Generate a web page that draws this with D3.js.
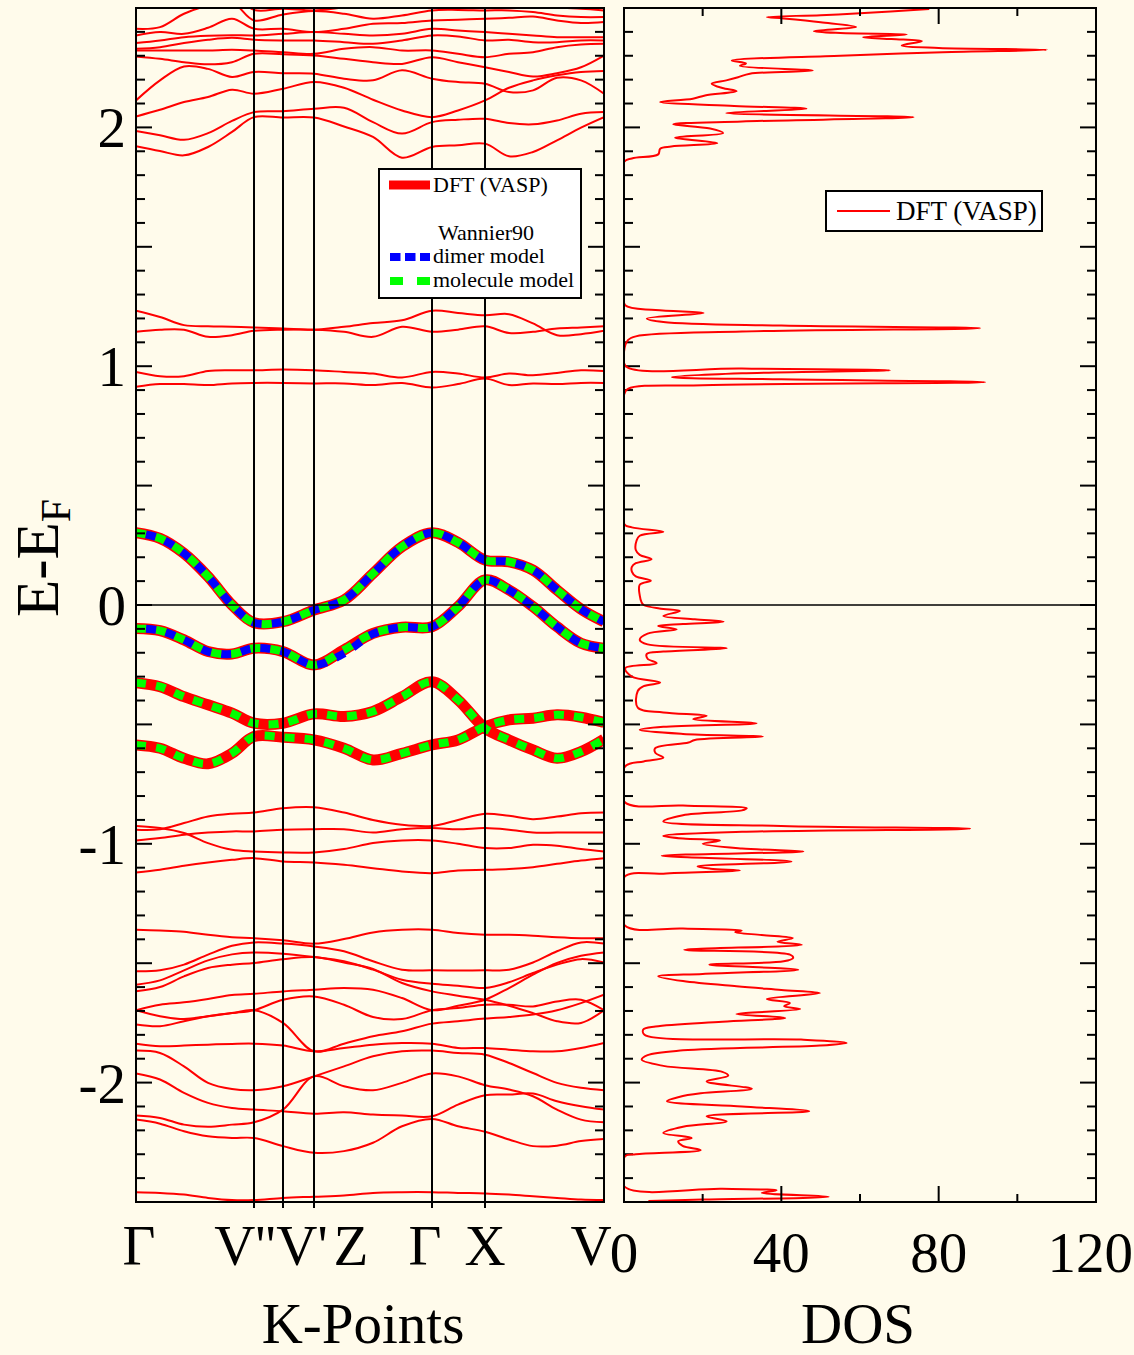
<!DOCTYPE html>
<html>
<head>
<meta charset="utf-8">
<script src="https://cdn.jsdelivr.net/npm/d3@7"></script>
<style>
  html, body { margin: 0; padding: 0; background: #fffbeb; }
  svg { display: block; }
  text { font-family: "Liberation Serif", "Times New Roman", serif; fill: #000; }
</style>
</head>
<body>
<svg id="chart" width="1134" height="1355"></svg>
<script>
// ---- k-path (distance along the path) ----
const kGrid = [0, 0.24, 0.48, 0.72, 0.96, 1.18, 1.47, 1.78, 2.08, 2.37, 2.66, 2.96, 3.22, 3.49, 3.73, 3.97, 4.21, 4.45, 4.68];
const kTicks = [0, 1.18, 1.47, 1.78, 2.96, 3.49, 4.68];
const kLabels = ["Γ", "V''", "V'", "Z", "Γ", "X", "V"];

// ---- DFT (VASP) bands, E - E_F in eV, sampled on kGrid ----
const bandsHigh = [
  [1.921,1.901,1.883,1.918,1.981,2.043,2.041,2.041,2.004,1.960,1.873,1.918,1.925,1.932,1.879,1.897,1.946,1.999,2.043],
  [1.985,1.967,1.948,1.976,2.027,2.064,2.068,2.078,2.082,2.022,1.974,2.022,2.032,2.036,2.018,2.013,2.029,2.057,2.064],
  [2.046,2.074,2.106,2.127,2.158,2.141,2.162,2.190,2.166,2.116,2.071,2.043,2.071,2.113,2.166,2.197,2.218,2.232,2.236],
  [2.113,2.197,2.255,2.245,2.211,2.232,2.227,2.225,2.204,2.197,2.239,2.204,2.190,2.183,2.148,2.155,2.208,2.197,2.141],
  [2.297,2.287,2.273,2.264,2.273,2.308,2.306,2.301,2.287,2.273,2.266,2.294,2.273,2.252,2.232,2.213,2.227,2.252,2.301],
  [2.322,2.322,2.322,2.322,2.325,2.322,2.315,2.308,2.329,2.336,2.322,2.322,2.308,2.294,2.308,2.315,2.336,2.347,2.350],
  [2.329,2.336,2.353,2.367,2.375,2.367,2.364,2.364,2.357,2.350,2.364,2.385,2.381,2.364,2.367,2.357,2.357,2.364,2.364],
  [2.353,2.364,2.378,2.384,2.386,2.385,2.392,2.399,2.392,2.385,2.392,2.413,2.406,2.399,2.392,2.385,2.378,2.378,2.378],
  [2.385,2.399,2.392,2.417,2.455,2.413,2.413,2.399,2.413,2.434,2.437,2.448,2.451,2.455,2.459,2.464,2.448,2.437,2.441],
  [2.413,2.420,2.476,2.510,2.524,2.448,2.473,2.487,2.476,2.455,2.469,2.490,2.492,2.490,2.490,2.483,2.469,2.462,2.462],
  [2.503,2.517,2.545,2.559,2.559,2.492,2.497,2.490,2.503,2.517,2.524,2.531,2.531,2.538,2.531,2.517,2.503,2.497,2.490]
];
const bandsOne = [
  [1.232,1.206,1.172,1.167,1.165,1.162,1.158,1.153,1.165,1.181,1.192,1.232,1.223,1.213,1.218,1.179,1.130,1.134,1.148],
  [1.144,1.153,1.153,1.123,1.130,1.148,1.153,1.153,1.144,1.123,1.165,1.144,1.153,1.167,1.139,1.144,1.158,1.162,1.167],
  [0.976,0.958,0.958,0.980,0.983,0.983,0.986,0.983,0.976,0.969,0.953,0.976,0.969,0.953,0.969,0.962,0.972,0.983,0.980],
  [0.914,0.925,0.925,0.921,0.928,0.930,0.930,0.928,0.928,0.921,0.930,0.911,0.925,0.948,0.921,0.928,0.925,0.930,0.930]
];
const bandsMinusOne = [
  [-0.941,-0.939,-0.913,-0.886,-0.874,-0.869,-0.851,-0.847,-0.869,-0.900,-0.920,-0.925,-0.900,-0.874,-0.883,-0.897,-0.886,-0.872,-0.869],
  [-0.925,-0.934,-0.955,-0.997,-1.025,-1.032,-1.036,-1.036,-1.022,-0.997,-0.986,-0.986,-1.000,-1.018,-1.018,-1.004,-1.008,-1.022,-1.032],
  [-0.986,-0.976,-0.962,-0.953,-0.948,-0.948,-0.941,-0.939,-0.939,-0.953,-0.939,-0.934,-0.939,-0.934,-0.941,-0.953,-0.953,-0.953,-0.953],
  [-1.120,-1.109,-1.092,-1.078,-1.067,-1.060,-1.074,-1.078,-1.088,-1.102,-1.116,-1.123,-1.112,-1.109,-1.106,-1.098,-1.084,-1.070,-1.060]
];
const bandsLow = [
  [-1.360,-1.363,-1.368,-1.381,-1.391,-1.395,-1.404,-1.418,-1.399,-1.371,-1.360,-1.360,-1.374,-1.381,-1.381,-1.385,-1.391,-1.395,-1.395],
  [-1.534,-1.530,-1.506,-1.464,-1.427,-1.413,-1.418,-1.430,-1.450,-1.492,-1.527,-1.530,-1.531,-1.530,-1.527,-1.497,-1.450,-1.413,-1.418],
  [-1.590,-1.572,-1.530,-1.488,-1.463,-1.455,-1.460,-1.474,-1.492,-1.527,-1.569,-1.586,-1.594,-1.604,-1.580,-1.541,-1.506,-1.483,-1.497],
  [-1.618,-1.600,-1.555,-1.520,-1.506,-1.499,-1.483,-1.474,-1.497,-1.524,-1.583,-1.618,-1.636,-1.653,-1.678,-1.709,-1.743,-1.750,-1.697],
  [-1.697,-1.674,-1.664,-1.650,-1.633,-1.628,-1.618,-1.611,-1.604,-1.611,-1.646,-1.697,-1.678,-1.653,-1.604,-1.548,-1.499,-1.469,-1.455],
  [-1.697,-1.722,-1.734,-1.722,-1.709,-1.697,-1.653,-1.639,-1.674,-1.725,-1.734,-1.697,-1.688,-1.674,-1.674,-1.681,-1.660,-1.653,-1.697],
  [-1.757,-1.764,-1.743,-1.722,-1.709,-1.697,-1.750,-1.869,-1.837,-1.806,-1.785,-1.753,-1.743,-1.732,-1.725,-1.715,-1.697,-1.667,-1.632],
  [-1.837,-1.848,-1.845,-1.841,-1.838,-1.837,-1.845,-1.869,-1.855,-1.841,-1.834,-1.837,-1.855,-1.855,-1.862,-1.869,-1.869,-1.855,-1.834],
  [-1.866,-1.876,-1.932,-2.001,-2.027,-2.032,-2.015,-1.974,-1.932,-1.890,-1.869,-1.866,-1.876,-1.883,-1.918,-1.960,-2.001,-2.022,-2.032],
  [-1.962,-1.987,-2.043,-2.085,-2.106,-2.113,-2.120,-2.130,-2.124,-2.134,-2.138,-2.141,-2.092,-2.053,-2.050,-2.046,-2.078,-2.099,-2.113],
  [-2.138,-2.148,-2.176,-2.185,-2.176,-2.166,-2.113,-1.974,-2.015,-2.032,-2.001,-1.962,-1.974,-2.011,-2.029,-2.057,-2.113,-2.155,-2.166],
  [-2.155,-2.172,-2.204,-2.225,-2.232,-2.232,-2.266,-2.294,-2.287,-2.252,-2.183,-2.152,-2.183,-2.206,-2.238,-2.266,-2.264,-2.245,-2.236],
  [-2.459,-2.462,-2.469,-2.483,-2.492,-2.492,-2.483,-2.478,-2.473,-2.462,-2.459,-2.459,-2.462,-2.464,-2.469,-2.476,-2.483,-2.490,-2.492]
];
// the four bands around E_F that the Wannier models reproduce
const bandsNearEF = [
  [0.303,0.279,0.216,0.119,0.000,-0.074,-0.070,-0.021,0.021,0.132,0.244,0.303,0.262,0.188,0.181,0.146,0.063,-0.017,-0.070],
  [-0.098,-0.107,-0.146,-0.195,-0.205,-0.181,-0.195,-0.251,-0.188,-0.119,-0.093,-0.091,-0.007,0.105,0.063,-0.007,-0.091,-0.160,-0.181],
  [-0.325,-0.342,-0.384,-0.418,-0.453,-0.495,-0.495,-0.456,-0.467,-0.446,-0.384,-0.321,-0.397,-0.516,-0.565,-0.607,-0.642,-0.614,-0.562],
  [-0.586,-0.600,-0.642,-0.665,-0.621,-0.551,-0.554,-0.565,-0.600,-0.649,-0.621,-0.586,-0.565,-0.509,-0.481,-0.474,-0.460,-0.470,-0.492]
];
// Wannier90 interpolations
const dimerBands = [
  [0.303,0.279,0.216,0.119,0.000,-0.074,-0.070,-0.021,0.021,0.132,0.244,0.303,0.262,0.188,0.181,0.146,0.063,-0.017,-0.070],
  [-0.098,-0.107,-0.146,-0.195,-0.205,-0.181,-0.195,-0.251,-0.203,-0.121,-0.093,-0.091,-0.007,0.105,0.063,-0.007,-0.091,-0.160,-0.181]
];
const moleculeBands = [
  [0.303,0.279,0.216,0.119,0.000,-0.074,-0.070,-0.021,0.021,0.132,0.244,0.303,0.262,0.188,0.181,0.146,0.063,-0.017,-0.070],
  [-0.098,-0.107,-0.146,-0.195,-0.205,-0.181,-0.195,-0.251,-0.188,-0.119,-0.093,-0.091,-0.007,0.105,0.063,-0.007,-0.091,-0.160,-0.181],
  [-0.325,-0.342,-0.384,-0.418,-0.453,-0.495,-0.495,-0.456,-0.467,-0.446,-0.384,-0.321,-0.397,-0.516,-0.565,-0.607,-0.642,-0.614,-0.562],
  [-0.586,-0.600,-0.642,-0.665,-0.621,-0.551,-0.554,-0.565,-0.600,-0.649,-0.621,-0.586,-0.565,-0.509,-0.481,-0.474,-0.460,-0.470,-0.492]
];

// ---- density of states ----
const dosEnergy = [2.496,2.478,2.470,2.462,2.456,2.440,2.420,2.403,2.395,2.389,2.378,2.370,2.361,2.343,2.333,2.325,2.315,2.300,2.280,2.268,
  2.258,2.238,2.225,2.210,2.197,2.183,2.165,2.152,2.134,2.120,2.106,2.090,2.078,2.060,2.043,2.025,2.013,1.995,1.976,1.957,
  1.934,1.920,1.911,1.887,1.870,1.855,1.300,1.255,1.235,1.223,1.200,1.185,1.170,1.159,1.145,1.125,1.109,1.060,1.000,0.990,
  0.983,0.970,0.954,0.945,0.933,0.920,0.905,0.880,0.340,0.325,0.307,0.290,0.270,0.230,0.210,0.192,0.175,0.160,0.140,0.120,
  0.102,0.085,0.040,0.010,0.000,-0.015,-0.025,-0.046,-0.060,-0.070,-0.080,-0.088,-0.102,-0.120,-0.146,-0.165,-0.181,-0.195,-0.205,-0.225,
  -0.244,-0.265,-0.300,-0.325,-0.340,-0.360,-0.430,-0.450,-0.464,-0.478,-0.495,-0.510,-0.523,-0.540,-0.551,-0.565,-0.576,-0.600,-0.620,-0.639,
  -0.655,-0.676,-0.823,-0.840,-0.851,-0.860,-0.880,-0.906,-0.925,-0.937,-0.950,-0.967,-0.978,-0.986,-1.000,-1.020,-1.032,-1.050,-1.074,-1.095,
  -1.104,-1.112,-1.125,-1.140,-1.339,-1.355,-1.363,-1.370,-1.382,-1.395,-1.410,-1.423,-1.444,-1.464,-1.478,-1.492,-1.506,-1.527,-1.545,-1.555,
  -1.575,-1.597,-1.612,-1.625,-1.650,-1.667,-1.680,-1.692,-1.713,-1.729,-1.745,-1.765,-1.778,-1.800,-1.820,-1.834,-1.845,-1.865,-1.885,-1.904,
  -1.930,-1.955,-1.971,-1.995,-2.026,-2.045,-2.060,-2.078,-2.100,-2.120,-2.141,-2.162,-2.185,-2.211,-2.232,-2.245,-2.265,-2.283,-2.300,-2.308,
  -2.434,-2.445,-2.451,-2.462,-2.478,-2.490,-2.496];
const dosValue = [77.6,60,50,36.3,40.5,50,59,48.3,55,71.9,60.8,68,75.7,70.6,80,107.5,81,55,27.4,31,
  29.5,48,32,29,26,22.3,25,28.6,20.6,17.5,9.2,28,46.4,26,73.6,30,12.5,21.9,25.2,13,
  23.7,12,9.2,8.7,2,0,0,0.3,8,20.2,5.8,10,40,90.5,30,3,1,0,0.5,30,
  67.6,30,12.2,40,91.8,20,1,0,0,2,10,4,3.2,3,4,7,3,2,2,3,
  6.8,4,4,4.5,5,9,14.2,10,18,25.3,15,8.7,13.4,6,4,6,26.1,10,5.8,6,
  8.3,0.3,2,9.2,5,3.5,3.5,10,21,17.6,33.7,10,4,15,35.3,18,16.4,7.9,8,10,
  5,0.3,0,15,31.2,30,15,10,40,88,30,10,15,24.4,20,30,45.6,9.6,42.6,18.7,
  22,29.5,10,0,0,15,29.9,28.3,35,42.9,39,45.2,15.3,42.2,43,40.6,21.7,44.3,20,8.7,
  15,28.6,40,49.8,36.3,42.2,40.7,44.8,28.6,41,25,8,4.9,5.2,45,56.6,49.8,15,6,4.5,
  10,25,26.5,21,32.5,19.5,14,10.9,30,47.1,21,26.1,15,10,17.2,13.8,14.9,19.5,3,0.3,
  0,25,38.8,35,52,20,6.2];

// ---- axis ticks ----
const energyTicks = [-2, -1, 0, 1, 2];
const dosTicks = [0, 40, 80, 120];

// ================= drawing =================
const svg = d3.select("#chart");
const red = "#ff0000", blue = "#0000ff", green = "#00ff00";

const band = { left: 136, right: 604, top: 8, bottom: 1202 };
const dosBox = { left: 624, right: 1096, top: 8, bottom: 1202 };

const yE = d3.scaleLinear().domain([-2.5, 2.5]).range([band.bottom, band.top]);
const xK = d3.scaleLinear().domain([0, 4.68]).range([band.left, band.right]);
const xD = d3.scaleLinear().domain([0, 120]).range([dosBox.left, dosBox.right]);

svg.append("rect").attr("width", 1134).attr("height", 1355).attr("fill", "#fffbeb");

const defs = svg.append("defs");
defs.append("clipPath").attr("id", "clipBand").append("rect")
  .attr("x", band.left).attr("y", band.top)
  .attr("width", band.right - band.left).attr("height", band.bottom - band.top);
defs.append("clipPath").attr("id", "clipDos").append("rect")
  .attr("x", dosBox.left).attr("y", dosBox.top)
  .attr("width", dosBox.right - dosBox.left).attr("height", dosBox.bottom - dosBox.top);

const bandLine = d3.line()
  .x((d, i) => xK(kGrid[i]))
  .y(d => yE(d))
  .curve(d3.curveCatmullRom.alpha(0.5));

const gBands = svg.append("g").attr("clip-path", "url(#clipBand)");

// thin DFT bands
[...bandsHigh, ...bandsOne, ...bandsMinusOne, ...bandsLow].forEach(b => {
  gBands.append("path").attr("d", bandLine(b))
    .attr("fill", "none").attr("stroke", red).attr("stroke-width", 2);
});
// thick DFT bands around E_F
bandsNearEF.forEach(b => {
  gBands.append("path").attr("d", bandLine(b))
    .attr("fill", "none").attr("stroke", red).attr("stroke-width", 11)
    .attr("stroke-linejoin", "round");
});
// Wannier90 dimer model
dimerBands.forEach(b => {
  gBands.append("path").attr("d", bandLine(b))
    .attr("fill", "none").attr("stroke", blue).attr("stroke-width", 8)
    .attr("stroke-dasharray", "10,10").attr("stroke-dashoffset", 10);
});
// Wannier90 molecule model
moleculeBands.forEach(b => {
  gBands.append("path").attr("d", bandLine(b))
    .attr("fill", "none").attr("stroke", green).attr("stroke-width", 8)
    .attr("stroke-dasharray", "10,10");
});

// high-symmetry lines
kTicks.slice(1, -1).forEach(k => {
  svg.append("line").attr("x1", xK(k)).attr("x2", xK(k))
    .attr("y1", band.top).attr("y2", band.bottom + 6)
    .attr("stroke", "#000").attr("stroke-width", 2);
});
// Fermi level
svg.append("line").attr("x1", band.left).attr("x2", band.right)
  .attr("y1", yE(0)).attr("y2", yE(0)).attr("stroke", "#000").attr("stroke-width", 1.5);

// energy ticks (both panels, both sides, pointing inward)
const minorE = d3.range(-25, 26).map(i => i / 10);
function eTicks(x, dir) {
  minorE.forEach(v => {
    const major = Math.abs(v * 2 - Math.round(v * 2)) < 1e-6;
    const len = major ? 16 : 9;
    svg.append("line").attr("x1", x).attr("x2", x + dir * len)
      .attr("y1", yE(v)).attr("y2", yE(v)).attr("stroke", "#000").attr("stroke-width", 2);
  });
}
eTicks(band.left, 1);
eTicks(band.right, -1);
eTicks(dosBox.left, 1);
eTicks(dosBox.right, -1);

// frame of band panel
svg.append("rect").attr("x", band.left).attr("y", band.top)
  .attr("width", band.right - band.left).attr("height", band.bottom - band.top)
  .attr("fill", "none").attr("stroke", "#000").attr("stroke-width", 2);

// energy labels
svg.selectAll("text.elab").data(energyTicks).enter().append("text")
  .attr("class", "elab")
  .attr("x", 126).attr("y", d => yE(d) + 20)
  .attr("text-anchor", "end").attr("font-size", 57)
  .text(d => d);

// k-point labels (nudged as in the original layout)
const kLabelNudge = [3, -9, 19, 37, -7, 0, -13];
kTicks.forEach((k, i) => {
  svg.append("text").attr("x", xK(k) + kLabelNudge[i]).attr("y", 1265)
    .attr("text-anchor", "middle").attr("font-size", 57).text(kLabels[i]);
});

// axis titles
svg.append("text").attr("x", 363).attr("y", 1343).attr("text-anchor", "middle")
  .attr("font-size", 57).text("K-Points");
svg.append("text").attr("x", 858).attr("y", 1343).attr("text-anchor", "middle")
  .attr("font-size", 57).text("DOS");
const yt = svg.append("text").attr("transform", "translate(58,558) rotate(-90)")
  .attr("text-anchor", "middle").attr("font-size", 61);
yt.append("tspan").text("E-E");
yt.append("tspan").attr("font-size", 42).attr("dy", 12).text("F");

// ---- legend (band panel) ----
const lg = svg.append("g");
lg.append("rect").attr("x", 379).attr("y", 169).attr("width", 202).attr("height", 129)
  .attr("fill", "#ffffff").attr("stroke", "#000").attr("stroke-width", 2);
lg.append("line").attr("x1", 389).attr("x2", 430).attr("y1", 185).attr("y2", 185)
  .attr("stroke", red).attr("stroke-width", 9);
lg.append("text").attr("x", 433).attr("y", 192).attr("font-size", 22).text("DFT (VASP)");
lg.append("text").attr("x", 486).attr("y", 240).attr("text-anchor", "middle").attr("font-size", 22).text("Wannier90");
lg.append("line").attr("x1", 390).attr("x2", 430).attr("y1", 257).attr("y2", 257)
  .attr("stroke", blue).attr("stroke-width", 8).attr("stroke-dasharray", "10.5,4.5");
lg.append("text").attr("x", 433).attr("y", 263).attr("font-size", 22).text("dimer model");
lg.append("line").attr("x1", 390).attr("x2", 430).attr("y1", 281).attr("y2", 281)
  .attr("stroke", green).attr("stroke-width", 8).attr("stroke-dasharray", "13,14");
lg.append("text").attr("x", 433).attr("y", 287).attr("font-size", 22).text("molecule model");

// ================= DOS panel =================
const dosPts = dosEnergy.map((e, i) => [dosValue[i], e]);
const dosLine = d3.line()
  .x(d => xD(d[0])).y(d => yE(d[1]))
  .curve(d3.curveCatmullRom.alpha(0.5));
svg.append("g").attr("clip-path", "url(#clipDos)")
  .append("path").attr("d", dosLine(dosPts))
  .attr("fill", "none").attr("stroke", red).attr("stroke-width", 2);

svg.append("line").attr("x1", dosBox.left).attr("x2", dosBox.right)
  .attr("y1", yE(0)).attr("y2", yE(0)).attr("stroke", "#000").attr("stroke-width", 1.5);

// DOS ticks top and bottom
d3.range(0, 121, 20).forEach(v => {
  const len = v % 40 === 0 ? 16 : 8;
  svg.append("line").attr("x1", xD(v)).attr("x2", xD(v))
    .attr("y1", dosBox.top).attr("y2", dosBox.top + len).attr("stroke", "#000").attr("stroke-width", 2);
  svg.append("line").attr("x1", xD(v)).attr("x2", xD(v))
    .attr("y1", dosBox.bottom).attr("y2", dosBox.bottom - len).attr("stroke", "#000").attr("stroke-width", 2);
});

svg.append("rect").attr("x", dosBox.left).attr("y", dosBox.top)
  .attr("width", dosBox.right - dosBox.left).attr("height", dosBox.bottom - dosBox.top)
  .attr("fill", "none").attr("stroke", "#000").attr("stroke-width", 2);

// DOS labels; the last one is kept inside the page edge
svg.selectAll("text.dlab").data(dosTicks).enter().append("text")
  .attr("class", "dlab")
  .attr("x", (d, i) => i === dosTicks.length - 1 ? 1133 : xD(d)).attr("y", 1272)
  .attr("text-anchor", (d, i) => i === dosTicks.length - 1 ? "end" : "middle")
  .attr("font-size", 57)
  .text(d => d);

// DOS legend
const lg2 = svg.append("g");
lg2.append("rect").attr("x", 826).attr("y", 191).attr("width", 216).attr("height", 40)
  .attr("fill", "#ffffff").attr("stroke", "#000").attr("stroke-width", 2);
lg2.append("line").attr("x1", 837).attr("x2", 890).attr("y1", 211).attr("y2", 211)
  .attr("stroke", red).attr("stroke-width", 2);
lg2.append("text").attr("x", 896).attr("y", 220).attr("font-size", 27).text("DFT (VASP)");
</script>
</body>
</html>
